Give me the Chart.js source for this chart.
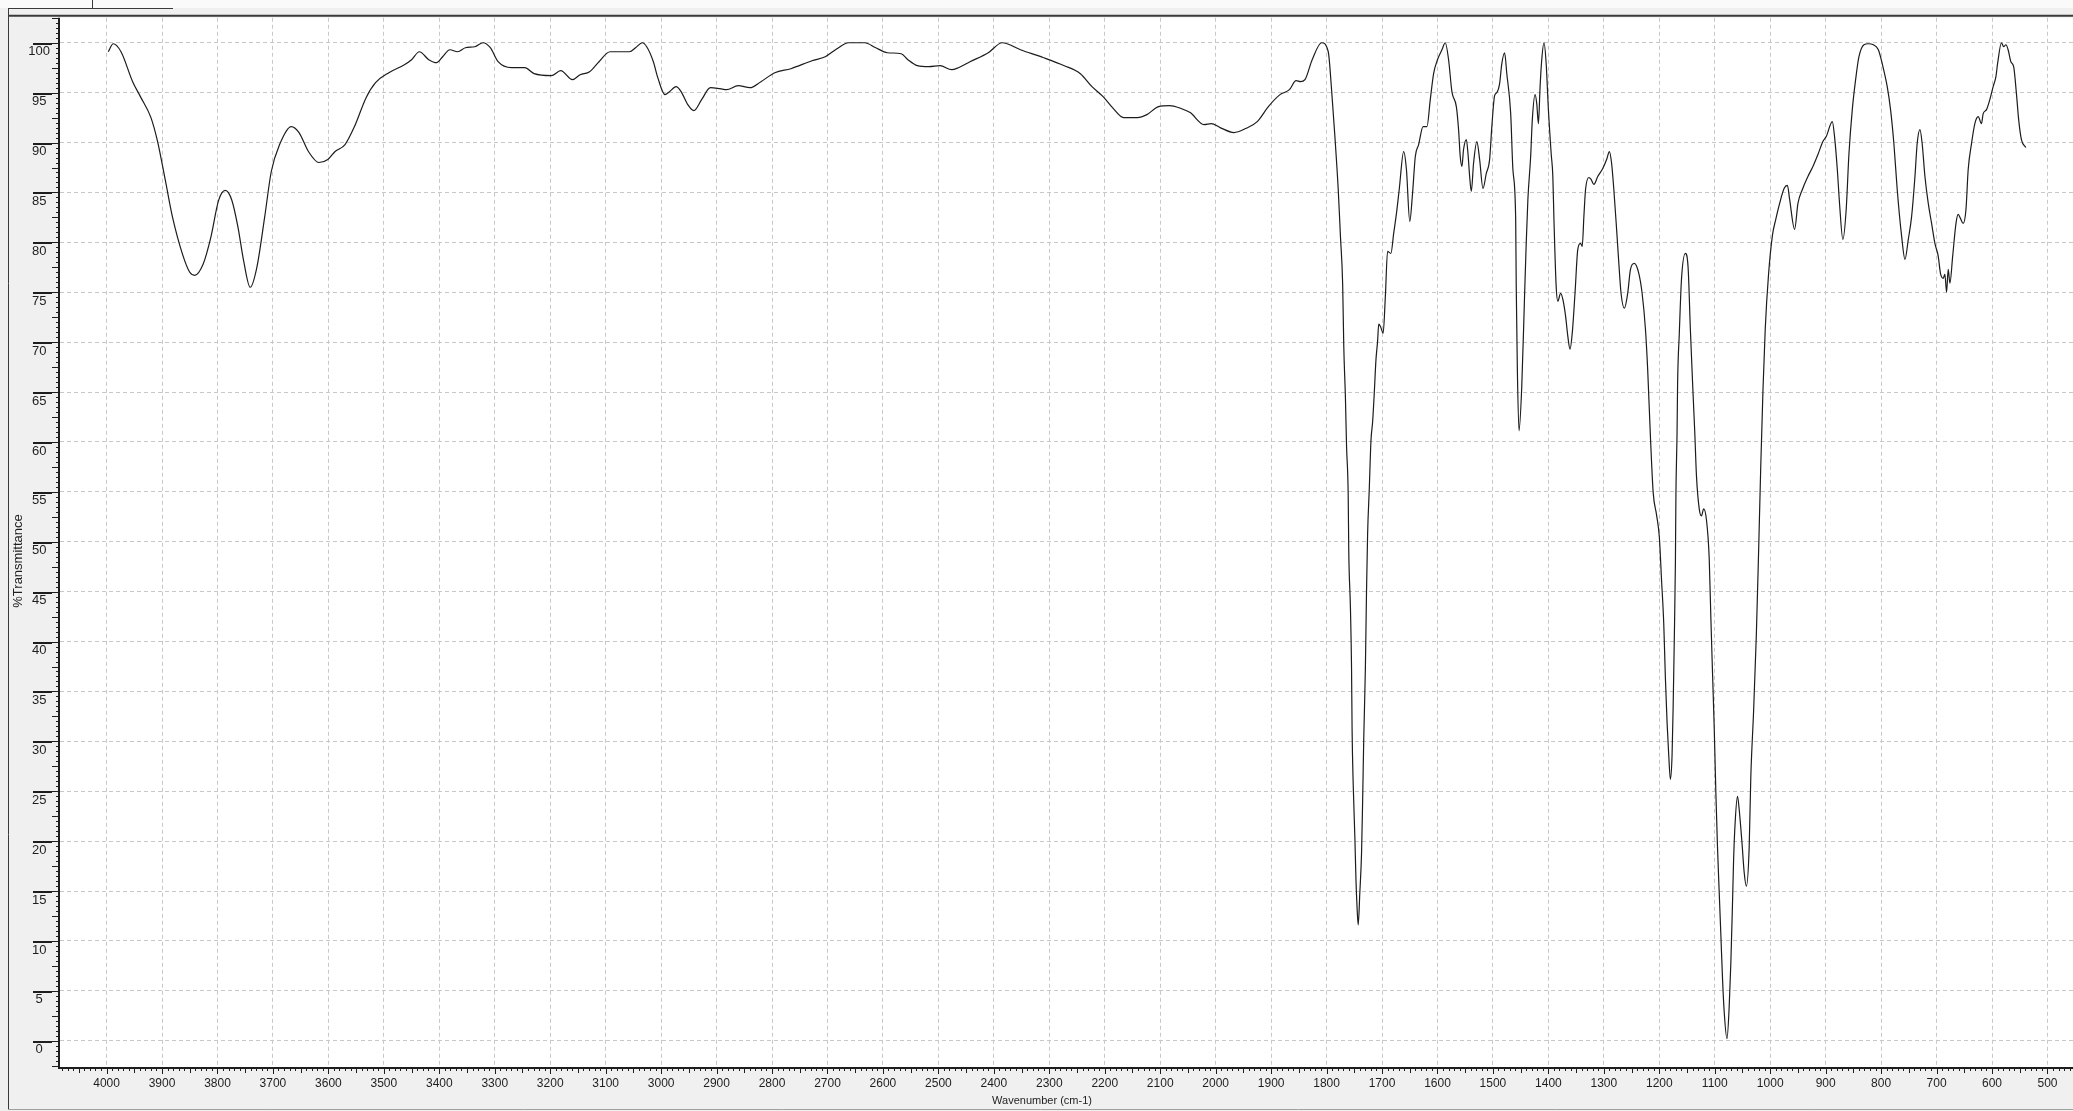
<!DOCTYPE html>
<html>
<head>
<meta charset="utf-8">
<title>IR spectrum</title>
<script src="https://cdn.jsdelivr.net/npm/chart.js@4.4.1/dist/chart.umd.min.js"></script>
<style>
  html, body { margin: 0; padding: 0; background: #f0f0f0; }
  #wrap { width: 2073px; height: 1111px; }
</style>
</head>
<body>
<div id="wrap"><canvas id="ir" width="2073" height="1111"></canvas></div>
<script>
/* IR spectrum — %Transmittance vs wavenumber */

// wavenumber (cm-1), high to low
const wavenumbers = [
  3997, 3988, 3974, 3953, 3939, 3920, 3908, 3894, 3881, 3863, 3850, 3841, 3826, 3812, 3798, 3786,
  3774, 3763, 3753, 3741, 3729, 3715, 3703, 3688, 3667, 3653, 3636, 3617, 3601, 3588, 3570, 3553,
  3532, 3515, 3491, 3463, 3450, 3436, 3419, 3405, 3394, 3381, 3367, 3353, 3336, 3321, 3308, 3294,
  3270, 3246, 3229, 3198, 3181, 3160, 3146, 3129, 3112, 3092, 3057, 3046, 3034, 3026, 3014, 3006,
  2993, 2985, 2973, 2964, 2952, 2941, 2927, 2911, 2894, 2882, 2861, 2840, 2820, 2795, 2766, 2728,
  2704, 2683, 2662, 2633, 2613, 2592, 2567, 2555, 2538, 2517, 2497, 2476, 2464, 2443, 2410, 2385,
  2352, 2310, 2273, 2244, 2223, 2203, 2186, 2166, 2141, 2124, 2103, 2083, 2062, 2046, 2021, 2008,
  1992, 1967, 1946, 1925, 1905, 1884, 1867, 1855, 1847, 1839, 1826, 1809, 1797, 1791, 1785, 1779,
  1775, 1771, 1769, 1766, 1764, 1761, 1760, 1757, 1755, 1754, 1752, 1749, 1747, 1745, 1743, 1740,
  1737, 1735, 1733, 1730, 1728, 1726, 1723, 1720, 1717, 1714, 1711, 1708, 1706, 1703, 1698, 1694,
  1690, 1684, 1679, 1674, 1669, 1661, 1656, 1650, 1645, 1640, 1634, 1626, 1619, 1613, 1607, 1600,
  1592, 1586, 1580, 1574, 1566, 1562, 1559, 1556, 1553, 1548, 1545, 1542, 1539, 1535, 1529, 1524,
  1518, 1512, 1506, 1502, 1497, 1493, 1488, 1484, 1479, 1475, 1468, 1464, 1459, 1458, 1456, 1453,
  1448, 1443, 1440, 1437, 1432, 1429, 1424, 1421, 1418, 1415, 1412, 1408, 1404, 1400, 1395, 1392,
  1390, 1386, 1383, 1378, 1374, 1369, 1365, 1361, 1357, 1352, 1347, 1342, 1339, 1336, 1333, 1327,
  1323, 1318, 1311, 1302, 1295, 1290, 1286, 1282, 1277, 1273, 1269, 1263, 1257, 1252, 1245, 1237,
  1231, 1225, 1221, 1216, 1211, 1205, 1200, 1196, 1192, 1189, 1186, 1183, 1180, 1177, 1175, 1173,
  1171, 1170, 1168, 1167, 1164, 1160, 1153, 1148, 1144, 1140, 1136, 1133, 1128, 1124, 1120, 1115,
  1110, 1107, 1104, 1101, 1098, 1095, 1092, 1089, 1086, 1083, 1078, 1074, 1071, 1068, 1066, 1063,
  1059, 1056, 1051, 1047, 1043, 1038, 1035, 1030, 1025, 1021, 1017, 1013, 1009, 1003, 996, 990,
  983, 975, 969, 965, 956, 950, 942, 932, 923, 914, 905, 899, 888, 884, 879, 875,
  869, 863, 858, 852, 846, 840, 831, 823, 814, 805, 798, 789, 783, 777, 771, 763,
  757, 751, 745, 739, 735, 730, 726, 721, 715, 709, 703, 697, 693, 688, 685, 682,
  679, 676, 671, 665, 661, 657, 652, 647, 643, 637, 631, 625, 619, 616, 610, 604,
  598, 593, 590, 583, 579, 575, 571, 566, 561, 556, 552, 547, 539
];

// %T at each wavenumber above
const transmittance = [
  99.1, 99.9, 99.1, 96.1, 94.6, 92.5, 90.1, 86.2, 82.5, 78.8, 77.0, 76.7, 77.8, 80.5, 84.2, 85.2,
  84.2, 81.5, 78.2, 75.5, 77.5, 82.5, 87.1, 89.8, 91.6, 91.0, 89.1, 88.0, 88.3, 89.1, 89.8, 91.6,
  94.5, 96.0, 97.0, 97.8, 98.3, 99.1, 98.3, 98.0, 98.6, 99.3, 99.1, 99.5, 99.6, 100.0, 99.5, 98.1,
  97.5, 97.5, 96.9, 96.7, 97.2, 96.3, 96.8, 97.1, 98.1, 99.1, 99.1, 99.5, 100.0, 99.6, 98.1, 96.5,
  94.8, 95.1, 95.6, 95.1, 93.8, 93.2, 94.3, 95.5, 95.4, 95.3, 95.7, 95.5, 96.1, 97.0, 97.4, 98.2,
  98.6, 99.4, 100.0, 100.0, 99.5, 99.0, 98.9, 98.3, 97.7, 97.6, 97.7, 97.3, 97.5, 98.1, 99.0, 100.0,
  99.3, 98.5, 97.7, 96.9, 95.6, 94.6, 93.5, 92.5, 92.5, 92.8, 93.6, 93.7, 93.4, 93.0, 91.8, 91.9,
  91.5, 91.0, 91.4, 92.1, 93.6, 94.8, 95.3, 96.2, 96.1, 96.3, 98.3, 100.0, 99.1, 95.3, 90.6, 85.3,
  80.6, 75.8, 69.6, 64.4, 59.6, 54.6, 49.1, 43.4, 37.4, 31.2, 25.7, 20.4, 16.1, 13.3, 11.6, 14.9,
  18.7, 24.0, 30.2, 37.4, 45.0, 50.8, 55.3, 60.1, 62.0, 64.9, 68.2, 70.1, 71.8, 71.6, 70.9, 74.6,
  79.1, 78.9, 80.9, 82.9, 85.3, 89.1, 87.3, 82.1, 84.9, 88.6, 89.8, 91.6, 91.6, 94.3, 96.9, 98.3,
  99.3, 100.0, 98.3, 95.1, 93.6, 91.3, 88.6, 87.6, 89.3, 90.3, 88.9, 86.6, 85.1, 87.9, 90.1, 88.3,
  85.4, 86.9, 88.3, 91.6, 94.7, 95.0, 95.9, 97.9, 99.0, 96.9, 92.9, 87.3, 82.3, 75.6, 67.3, 61.1,
  65.6, 74.6, 79.9, 84.3, 88.6, 92.3, 94.8, 93.9, 91.9, 95.6, 98.3, 100.0, 97.9, 93.3, 88.9, 86.6,
  82.3, 75.6, 74.1, 74.9, 74.3, 72.6, 70.6, 69.3, 70.9, 74.9, 79.3, 79.9, 79.6, 82.6, 85.3, 86.5,
  86.3, 85.8, 86.6, 87.4, 88.3, 89.1, 87.9, 85.3, 81.3, 77.9, 74.9, 73.4, 74.9, 77.3, 77.9, 76.9,
  74.9, 71.3, 67.3, 60.5, 54.9, 52.7, 50.5, 46.2, 41.8, 36.3, 31.9, 28.6, 26.2, 28.6, 33.6, 40.1,
  47.8, 54.9, 60.9, 65.9, 70.8, 76.3, 78.9, 77.4, 71.3, 65.9, 60.9, 56.6, 53.3, 52.6, 53.3, 52.2,
  48.3, 42.3, 36.8, 31.4, 24.8, 19.3, 14.9, 10.6, 6.2, 2.9, 0.2, 3.4, 7.8, 13.8, 18.2, 22.1,
  24.5, 23.2, 19.9, 16.9, 15.5, 19.3, 26.4, 33.0, 40.7, 48.9, 57.7, 65.3, 71.3, 76.8, 80.7, 82.3,
  83.9, 85.4, 85.7, 84.3, 81.3, 83.9, 85.3, 86.6, 87.6, 88.8, 90.1, 90.6, 92.1, 90.6, 87.3, 83.9,
  80.3, 83.3, 88.9, 93.3, 96.3, 98.6, 99.8, 99.9, 99.8, 99.3, 97.9, 95.6, 93.3, 89.9, 85.3, 80.6,
  78.3, 80.3, 82.6, 86.6, 89.9, 91.3, 89.9, 86.6, 83.9, 81.9, 79.9, 78.6, 76.9, 76.4, 76.8, 75.0,
  77.3, 75.9, 78.6, 81.9, 82.8, 82.4, 81.9, 83.3, 87.3, 89.9, 91.9, 92.6, 91.9, 92.9, 93.3, 94.3,
  95.6, 96.6, 97.9, 100.0, 99.6, 99.8, 99.3, 98.1, 97.6, 94.9, 92.3, 90.3, 89.5
];

const X_MIN = 454, X_MAX = 4084;     // visible wavenumber window
const Y_MIN = -2.63, Y_MAX = 102.5;  // visible %T window
const xTitle = 'Wavenumber (cm-1)';
const yTitle = '%Transmittance';

const FONT = "'Liberation Sans', Arial, sans-serif";
const INK = '#1e1e1e';

// panel background, ticks, frame and axis titles
const framePlugin = {
  id: 'frame',
  beforeDraw(chart) {
    const { ctx, chartArea: a, width, height } = chart;
    ctx.save();
    ctx.fillStyle = '#f0f0f0';
    ctx.fillRect(0, 0, width, height);
    ctx.fillStyle = '#fafafa';
    ctx.fillRect(0, 0, width, 8);
    ctx.fillStyle = '#ffffff';
    ctx.fillRect(a.left, a.top, a.right - a.left, a.bottom - a.top);
    ctx.restore();
  },
  afterDraw(chart) {
    const { ctx, chartArea: a, scales: { x, y } } = chart;
    ctx.save();
    ctx.strokeStyle = INK;
    ctx.lineWidth = 1;
    ctx.beginPath();

    // y ticks: every 0.5, medium every 2.5, long every 5
    for (let i = -5; i <= 205; i++) {
      const v = i / 2;
      if (v < Y_MIN || v > Y_MAX) continue;
      const py = Math.round(y.getPixelForValue(v)) + 0.5;
      const len = i % 10 === 0 ? a.left - 33 : (i % 5 === 0 ? 8 : 4);
      ctx.moveTo(a.left - len, py);
      ctx.lineTo(a.left, py);
    }
    // x ticks: every 10, medium every 50, long every 100
    for (let w = 460; w <= 4080; w += 10) {
      const px = Math.round(x.getPixelForValue(w)) + 0.5;
      const len = w % 100 === 0 ? 7 : (w % 50 === 0 ? 6 : 4);
      ctx.moveTo(px, a.bottom);
      ctx.lineTo(px, a.bottom + len);
    }
    ctx.stroke();

    // extra width under the major y ticks
    ctx.beginPath();
    for (let v = 0; v <= 100; v += 5) {
      const py = Math.round(y.getPixelForValue(v)) + 1.5;
      ctx.moveTo(33, py);
      ctx.lineTo(a.left - 8, py);
    }
    ctx.stroke();

    // axis lines
    ctx.lineWidth = 2;
    ctx.beginPath();
    ctx.moveTo(a.left - 1, a.top);
    ctx.lineTo(a.left - 1, a.bottom + 1);
    ctx.lineTo(a.right, a.bottom + 1);
    ctx.stroke();

    // window frame
    ctx.strokeStyle = '#3a3a3a';
    ctx.beginPath();
    ctx.moveTo(8, a.top - 2);
    ctx.lineTo(a.right, a.top - 2);
    ctx.stroke();
    ctx.lineWidth = 1;
    ctx.beginPath();
    ctx.moveTo(8.5, 8);
    ctx.lineTo(8.5, 1110);
    ctx.moveTo(8, 8.5);
    ctx.lineTo(173, 8.5);
    ctx.moveTo(92.5, 0);
    ctx.lineTo(92.5, 8);
    ctx.stroke();
    ctx.strokeStyle = '#a0a0a0';
    ctx.beginPath();
    ctx.moveTo(8, 1109.5);
    ctx.lineTo(a.right, 1109.5);
    ctx.stroke();

    // axis titles
    ctx.fillStyle = INK;
    ctx.textAlign = 'center';
    ctx.textBaseline = 'middle';
    ctx.font = '11px ' + FONT;
    ctx.fillText(xTitle, 1042, 1101);
    ctx.translate(18, 561);
    ctx.rotate(-Math.PI / 2);
    ctx.font = '13px ' + FONT;
    ctx.fillText(yTitle, 0, 0);
    ctx.restore();
  }
};

const points = wavenumbers.map((w, i) => ({ x: w, y: transmittance[i] }));

new Chart(document.getElementById('ir'), {
  type: 'line',
  data: {
    datasets: [{
      data: points,
      borderColor: '#1c1c1c',
      borderWidth: 1.2,
      pointRadius: 0,
      fill: false,
      cubicInterpolationMode: 'monotone'
    }]
  },
  options: {
    responsive: false,
    devicePixelRatio: 1,
    animation: false,
    parsing: false,
    layout: { padding: { top: 14, left: 0, right: 0, bottom: 0 } },
    plugins: { legend: { display: false }, tooltip: { enabled: false } },
    scales: {
      x: {
        type: 'linear',
        reverse: true,
        min: X_MIN,
        max: X_MAX,
        afterFit: s => { s.height = 44; },
        grid: { color: '#c8c8c8', lineWidth: 1, drawTicks: false },
        border: { display: false, dash: [4, 3] },
        ticks: {
          stepSize: 100,
          includeBounds: false,
          autoSkip: false,
          maxRotation: 0,
          padding: 9,
          color: INK,
          font: { family: FONT, size: 12 },
          callback: v => String(v)
        }
      },
      y: {
        type: 'linear',
        min: Y_MIN,
        max: Y_MAX,
        afterFit: s => { s.width = 60; },
        grid: { color: '#c8c8c8', lineWidth: 1, drawTicks: false },
        border: { display: false, dash: [4, 3] },
        ticks: {
          stepSize: 5,
          includeBounds: false,
          crossAlign: 'center',
          padding: 10,
          labelOffset: 9,
          color: INK,
          font: { family: FONT, size: 13 },
          callback: v => String(v)
        }
      }
    }
  },
  plugins: [framePlugin]
});
</script>
</body>
</html>
